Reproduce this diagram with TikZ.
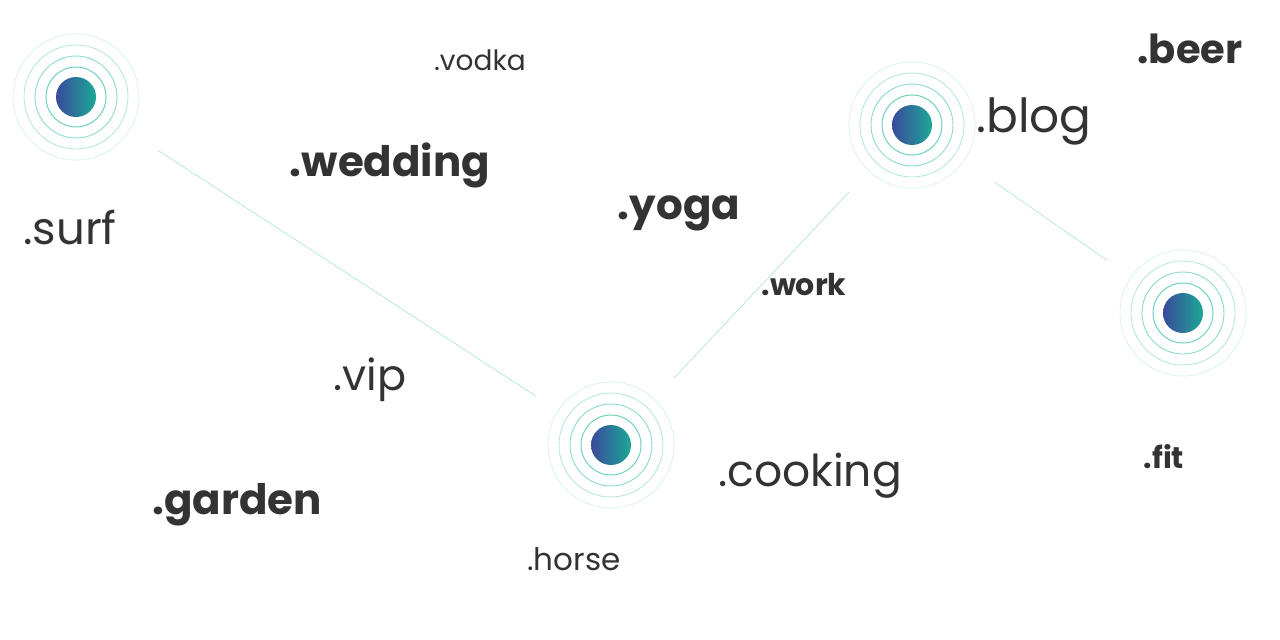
\documentclass[tikz,border=0pt]{standalone}
\usepackage{fontspec}
\setmainfont{Poppins}
\begin{document}
\begin{tikzpicture}[x=1pt,y=-1pt,
  lbl/.style={text=txt,inner sep=0pt},
  reg/.style={lbl,font=\fontsize{#1}{#1}\selectfont},
  bld/.style={lbl,font=\fontsize{#1}{#1}\selectfont\bfseries},
  link/.style={draw=ring!70,line width=0.5pt}]
\definecolor{txt}{HTML}{333333}
\definecolor{ring}{HTML}{6FD0C0}
\definecolor{cblue}{HTML}{3A4A9C}
\definecolor{cteal}{HTML}{1CA896}
\useasboundingbox (0,0) rectangle (1280,640);
\newcommand{\pulse}[2]{%
  \node[circle,minimum size=40pt,inner sep=0pt,left color=cblue,right color=cteal,draw=none] (#1) at #2 {};
  \draw[ring,line width=1pt] #2 circle (30);
  \draw[ring!80,line width=0.9pt] #2 circle (41);
  \draw[ring!55,line width=0.8pt] #2 circle (52);
  \draw[ring!30,line width=0.7pt] #2 circle (63);}
\pulse{surf}{(76,97)}
\pulse{blog}{(912,125)}
\pulse{fit}{(1183,313)}
\pulse{horse}{(611,445)}
\draw[link,shorten <=78pt,shorten >=70pt] (surf) -- (horse);
\draw[link,shorten <=72pt,shorten >=72pt] (horse) -- (blog);
\draw[link,shorten <=80pt,shorten >=72pt] (blog) -- (fit);
\node[reg=28] (t1) at (480,60) {.vodka};
\node[bld=40] (t2) at (1190,49) {.beer};
\node[reg=47] (t3) at (1034,121) {.blog};
\node[bld=42] (t4) at (390,165) {.wedding};
\node[reg=45] (t5) at (70,228) {.surf};
\node[bld=42] (t6) at (679,213) {.yoga};
\node[bld=30] (t7) at (804,285) {.work};
\node[reg=43] (t8) at (370,380) {.vip};
\node[bld=30] (t9) at (1164,457) {.fit};
\node[reg=44] (t10) at (810,476) {.cooking};
\node[bld=42] (t11) at (237,505) {.garden};
\node[reg=31] (t12) at (574,559) {.horse};
\end{tikzpicture}
\end{document}
